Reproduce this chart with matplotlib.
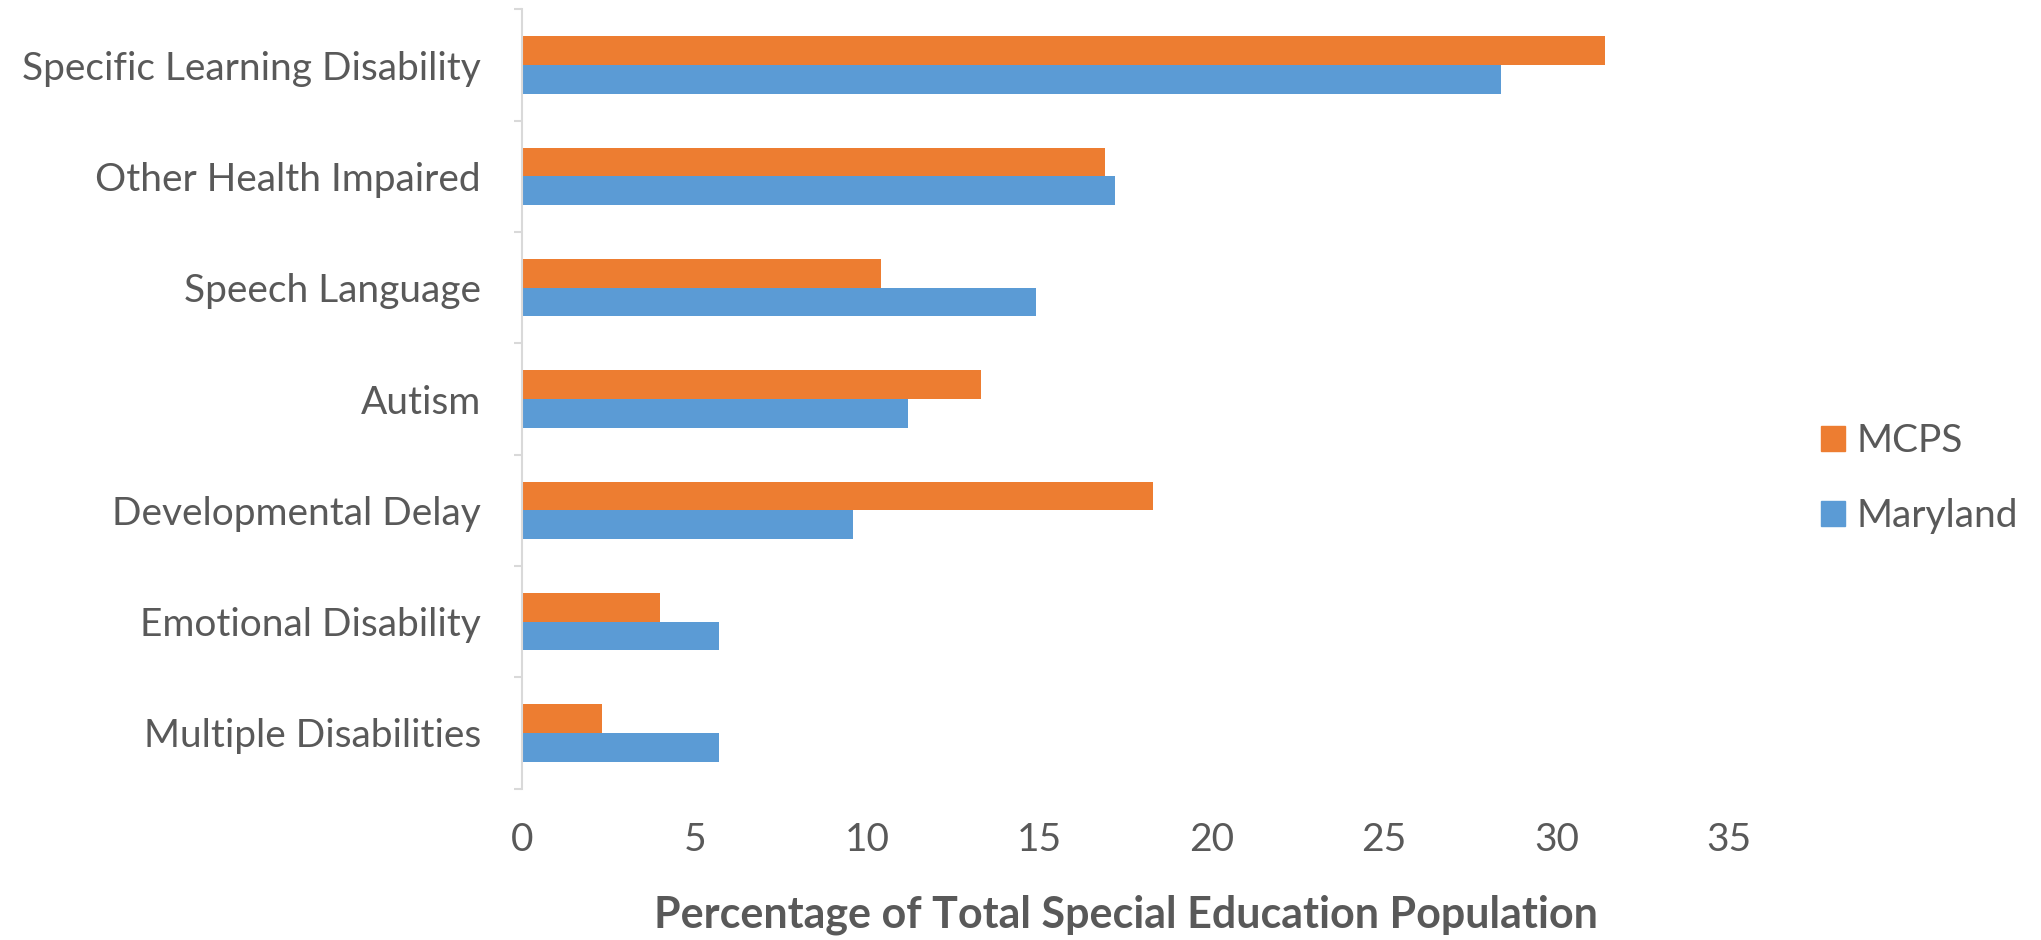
import numpy as np
import matplotlib.pyplot as plt
from matplotlib.patches import Patch

# Categories, top to bottom
categories = ['Specific Learning Disability', 'Other Health Impaired', 'Speech Language',
              'Autism', 'Developmental Delay', 'Emotional Disability', 'Multiple Disabilities']
mcps = [31.4, 16.9, 10.4, 13.3, 18.3, 4.0, 2.3]
maryland = [28.4, 17.2, 14.9, 11.2, 9.6, 5.7, 5.7]
xticks = [0, 5, 10, 15, 20, 25, 30, 35]

orange = '#ED7D31'
blue = '#5B9BD5'
grey = '#595959'

plt.rcParams['font.family'] = ['Lato', 'DejaVu Sans']

fig = plt.figure(figsize=(20.41, 9.40), dpi=100)
ax = fig.add_axes([0.256, 0.161, 0.591, 0.829])

y = np.arange(len(categories))
h = 0.257
ax.barh(y - h / 2, mcps, height=h, color=orange, label='MCPS')
ax.barh(y + h / 2, maryland, height=h, color=blue, label='Maryland')

ax.set_ylim(len(categories) - 0.5, -0.5)
ax.set_xlim(0, 35)
ax.set_xticks(xticks)
ax.set_yticks(y)
ax.set_yticklabels(categories)
ax.set_yticks(np.arange(len(categories) + 1) - 0.5, minor=True)

for s in ['top', 'right', 'bottom']:
    ax.spines[s].set_visible(False)
ax.spines['left'].set_color('#D9D9D9')
ax.spines['left'].set_linewidth(1.5)

ax.tick_params(axis='y', which='major', length=0, pad=30, labelsize=28, labelcolor=grey)
ax.tick_params(axis='y', which='minor', length=6, color='#D9D9D9', width=1.5)
ax.tick_params(axis='x', length=0, pad=24, labelsize=28, labelcolor=grey)

ax.set_xlabel('Percentage of Total Special Education Population', fontsize=31,
              fontweight='bold', color=grey)
ax.xaxis.set_label_coords(0.5, -0.1615)
ax.xaxis.label.set_va('center')

handles = [Patch(color=orange, label='MCPS'), Patch(color=blue, label='Maryland')]
fig.legend(handles=handles, loc='center left', bbox_to_anchor=(0.892, 0.491),
           frameon=False, fontsize=28, labelcolor=grey, handlelength=0.62,
           handleheight=0.62, handletextpad=0.3, labelspacing=1.0,
           borderpad=0, borderaxespad=0)

fig.savefig('out.png', dpi=100)
